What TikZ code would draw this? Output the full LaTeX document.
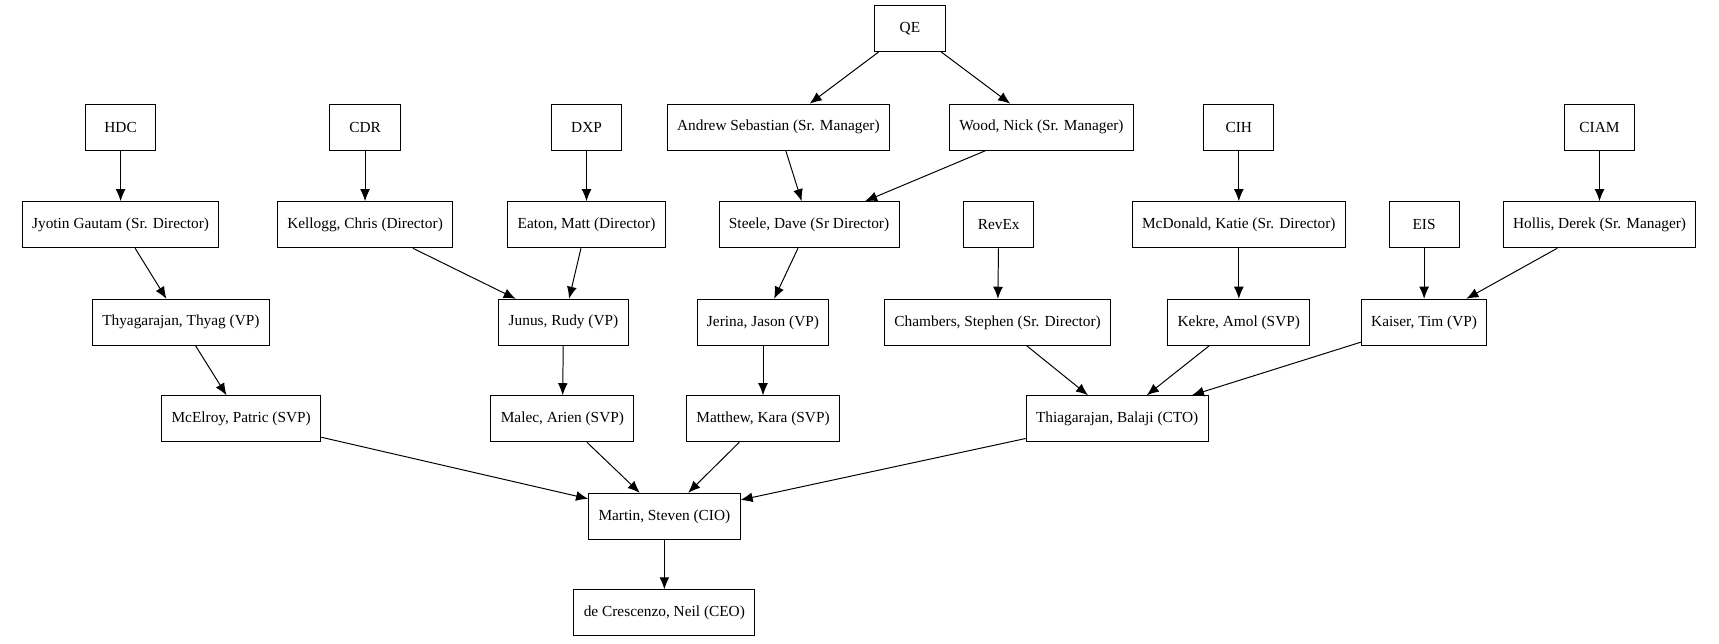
\documentclass[tikz,border=0pt]{standalone}
\usepackage{fontspec}
\setmainfont{Liberation Serif}
\usetikzlibrary{arrows.meta}
\begin{document}
\begin{tikzpicture}[x=1bp,y=-1bp,
  box/.style={draw,line width=0.9bp,minimum height=42bp,inner xsep=9bp,font=\fontsize{14bp}{16bp}\selectfont},
  e/.style={-{Latex[length=11bp,width=9bp]},line width=0.9bp}]
\useasboundingbox (0,0) rectangle (1568,587);
\node[box,minimum width=64bp] (qe) at (830,26) {QE};
\node[box,minimum width=64bp] (hdc) at (110,116) {HDC};
\node[box,minimum width=64bp] (cdr) at (333,116) {CDR};
\node[box,minimum width=64bp] (dxp) at (535,116) {DXP};
\node[box] (and) at (710,116) {Andrew Sebastian (Sr. Manager)};
\node[box] (wood) at (950,116) {Wood, Nick (Sr. Manager)};
\node[box,minimum width=64bp] (cih) at (1130,116) {CIH};
\node[box,minimum width=64bp] (ciam) at (1459,116) {CIAM};
\node[box] (jyo) at (110,205) {Jyotin Gautam (Sr. Director)};
\node[box] (kel) at (333,205) {Kellogg, Chris (Director)};
\node[box] (eat) at (535,205) {Eaton, Matt (Director)};
\node[box] (ste) at (738,205) {Steele, Dave (Sr Director)};
\node[box,minimum width=64bp] (rev) at (911,205) {RevEx};
\node[box] (mcd) at (1130,205) {McDonald, Katie (Sr. Director)};
\node[box,minimum width=64bp] (eis) at (1299,205) {EIS};
\node[box] (hol) at (1459,205) {Hollis, Derek (Sr. Manager)};
\node[box] (thy) at (165,294) {Thyagarajan, Thyag (VP)};
\node[box] (jun) at (514,294) {Junus, Rudy (VP)};
\node[box] (jer) at (696,294) {Jerina, Jason (VP)};
\node[box] (cha) at (910,294) {Chambers, Stephen (Sr. Director)};
\node[box] (kek) at (1130,294) {Kekre, Amol (SVP)};
\node[box] (kai) at (1299,294) {Kaiser, Tim (VP)};
\node[box] (mce) at (220,382) {McElroy, Patric (SVP)};
\node[box] (mal) at (513,382) {Malec, Arien (SVP)};
\node[box] (mat) at (696,382) {Matthew, Kara (SVP)};
\node[box] (bal) at (1019,382) {Thiagarajan, Balaji (CTO)};
\node[box] (mar) at (606,471) {Martin, Steven (CIO)};
\node[box] (dec) at (606,559) {de Crescenzo, Neil (CEO)};
\foreach \a/\b in {qe/and,qe/wood,hdc/jyo,cdr/kel,dxp/eat,and/ste,wood/ste,cih/mcd,ciam/hol,
  jyo/thy,kel/jun,eat/jun,ste/jer,rev/cha,mcd/kek,eis/kai,hol/kai,thy/mce,jun/mal,jer/mat,
  cha/bal,kek/bal,kai/bal,mce/mar,mal/mar,mat/mar,bal/mar,mar/dec}
  \draw[e] (\a) -- (\b);
\end{tikzpicture}
\end{document}
